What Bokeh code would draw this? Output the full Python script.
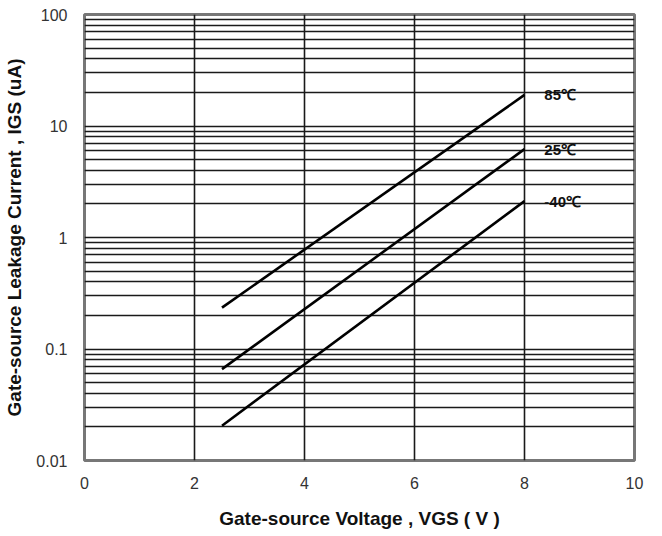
from bokeh.plotting import figure
from bokeh.models import FixedTicker, Range1d
from bokeh.embed import file_html
from bokeh.resources import INLINE
from bokeh.core.properties import value

# Data
vgs = [2.5, 8.0]
igs_85 = [0.235, 19.0]
igs_25 = [0.066, 6.2]
igs_m40 = [0.0205, 2.12]
series_labels = ["85℃", "25℃", "-40℃"]
series_values = [igs_85, igs_25, igs_m40]

x_ticks = [0, 2, 4, 6, 8, 10]
y_ticks = [0.01, 0.1, 1, 10, 100]
y_tick_labels = ["0.01", "0.1", "1", "10", "100"]

label_x = 8.36

p = figure(width=662, height=536, y_axis_type="log",
           x_range=Range1d(0, 10), y_range=Range1d(0.01, 100),
           output_backend="svg", toolbar_location=None,
           min_border_left=84, min_border_right=28,
           min_border_top=14, min_border_bottom=76)

p.background_fill_color = "white"
p.border_fill_color = "white"
p.outline_line_color = "#777777"
p.outline_line_width = 3

# grids
minor = []
for d in [0.01, 0.1, 1, 10]:
    for k in range(1, 10):
        minor.append(round(d * k, 6))
minor.append(100)
p.ygrid.ticker = FixedTicker(ticks=minor)
p.ygrid.grid_line_color = "#1a1a1a"
p.ygrid.grid_line_width = 1.6
p.xgrid.ticker = FixedTicker(ticks=[2, 4, 6, 8])
p.xgrid.grid_line_color = "#1a1a1a"
p.xgrid.grid_line_width = 1.6

# axes
p.xaxis.ticker = FixedTicker(ticks=x_ticks)
p.yaxis.ticker = FixedTicker(ticks=y_ticks)
p.yaxis.major_label_overrides = {t: l for t, l in zip(y_ticks, y_tick_labels)}
for ax in [p.xaxis[0], p.yaxis[0]]:
    ax.axis_line_color = None
    ax.major_tick_line_color = None
    ax.minor_tick_line_color = None
    ax.major_label_text_font = "Liberation Sans"
    ax.major_label_text_font_size = "16px"
    ax.major_label_text_color = "#333333"
    ax.axis_label_text_font = "Liberation Sans"
    ax.axis_label_text_font_size = "19px"
    ax.axis_label_text_font_style = "bold"
    ax.axis_label_text_color = "#111111"

p.xaxis.axis_label = "Gate-source Voltage , VGS ( V )"
p.yaxis.axis_label = "Gate-source Leakage Current , IGS (uA)"
p.xaxis.major_label_standoff = 10
p.yaxis.major_label_standoff = 11
p.xaxis.axis_label_standoff = 16
p.yaxis.axis_label_standoff = 8

for vals, lab in zip(series_values, series_labels):
    p.line(vgs, vals, line_color="black", line_width=2.6)
    p.text([label_x], [vals[1]], text=[lab], text_font=value("Liberation Sans"),
           text_font_size="15px", text_font_style="bold", text_color="#111111",
           text_baseline="middle", text_align="left")

open("out.html", "w").write(file_html(p, INLINE))
